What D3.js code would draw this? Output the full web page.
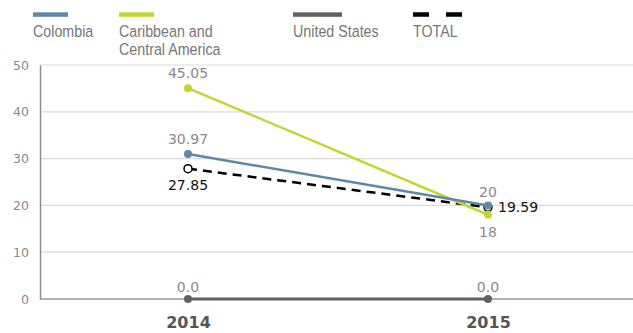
<!DOCTYPE html>
<html>
<head>
<meta charset="utf-8">
<script src="https://cdn.jsdelivr.net/npm/d3@7"></script>
<style>
  html, body { margin: 0; padding: 0; background: #fff; }
  svg { display: block; font-family: "DejaVu Sans", Arial, sans-serif; }
</style>
</head>
<body>
<svg id="chart" width="633" height="333"></svg>
<script>
// Years on the x axis
const years = ["2014", "2015"];

// Series values per year
const colombia = [30.97, 20];
const caribbean = [45.05, 18];
const unitedStates = [0, 0];
const total = [27.85, 19.59];

// Value labels as printed
const colombiaLabels = ["30.97", "20"];
const caribbeanLabels = ["45.05", "18"];
const usLabels = ["0.0", "0.0"];
const totalLabels = ["27.85", "19.59"];

const yTicks = [0, 10, 20, 30, 40, 50];

const svg = d3.select("#chart");
const width = 633, height = 333;
const margin = { top: 65, right: 0, bottom: 34, left: 40 };

const x = d3.scalePoint().domain(years).range([188, 488]);
const y = d3.scaleLinear().domain([0, 50]).range([height - margin.bottom, margin.top]);

const valueFont = "DejaVu Sans, sans-serif";
const legendFont = "Liberation Sans, Arial, sans-serif";

// Gridlines
svg.append("g")
  .selectAll("line")
  .data(yTicks)
  .join("line")
  .attr("x1", margin.left).attr("x2", width)
  .attr("y1", d => y(d)).attr("y2", d => y(d))
  .attr("stroke", d => d === 0 ? "#9a9a9a" : "#dcdcdc")
  .attr("stroke-width", d => d === 0 ? 1.5 : 1.2);

// Y axis
const yAxis = svg.append("g")
  .attr("transform", `translate(${margin.left},0)`)
  .call(d3.axisLeft(y).tickValues(yTicks).tickSize(0).tickPadding(11));
yAxis.select(".domain").attr("stroke", "#8c8c8c").attr("stroke-width", 1.5);
yAxis.selectAll("text")
  .attr("fill", "#8a8a8a")
  .attr("font-size", 12.5)
  .attr("font-family", valueFont);

// X axis labels
const xAxis = svg.append("g")
  .attr("transform", `translate(0,${height - margin.bottom})`)
  .call(d3.axisBottom(x).tickSize(0).tickPadding(18));
xAxis.select(".domain").remove();
xAxis.selectAll("text")
  .attr("fill", "#555")
  .attr("font-size", 16)
  .attr("font-weight", "bold")
  .attr("font-family", valueFont);

const line = d3.line().x((d, i) => x(years[i])).y(d => y(d));

function drawSeries(values, color, opts = {}) {
  svg.append("path")
    .datum(values)
    .attr("d", line)
    .attr("fill", "none")
    .attr("stroke", color)
    .attr("stroke-width", opts.width || 2.5)
    .attr("stroke-dasharray", opts.dash || null);
  svg.append("g")
    .selectAll("circle")
    .data(values)
    .join("circle")
    .attr("cx", (d, i) => x(years[i]))
    .attr("cy", d => y(d))
    .attr("r", 4)
    .attr("fill", opts.open ? "#fff" : color)
    .attr("stroke", opts.open ? color : "none")
    .attr("stroke-width", 1.5);
}

drawSeries(unitedStates, "#616161", { width: 3 });
drawSeries(total, "#000", { dash: "9,6", open: true });
drawSeries(caribbean, "#c3d630");
drawSeries(colombia, "#5e88a8");

// Value labels
function label(value, text, i, dx, dy, color, anchor = "middle") {
  svg.append("text")
    .attr("x", x(years[i]) + dx)
    .attr("y", y(value) + dy)
    .attr("text-anchor", anchor)
    .attr("fill", color)
    .attr("font-size", 14)
    .attr("font-family", valueFont)
    .text(text);
}
label(caribbean[0], caribbeanLabels[0], 0, 0, -10, "#8a8a8a");
label(colombia[0], colombiaLabels[0], 0, 0, -10, "#8a8a8a");
label(total[0], totalLabels[0], 0, 0, 21, "#111");
label(colombia[1], colombiaLabels[1], 1, 0, -8, "#8a8a8a");
label(caribbean[1], caribbeanLabels[1], 1, 0, 22, "#8a8a8a");
label(total[1], totalLabels[1], 1, 10, 5, "#111", "start");
label(unitedStates[0], usLabels[0], 0, 0, -7, "#8a8a8a");
label(unitedStates[1], usLabels[1], 1, 0, -7, "#8a8a8a");

// Legend (text horizontally condensed)
const legendItems = [
  { name: ["Colombia"], color: "#5e88a8", x: 33, w: 35 },
  { name: ["Caribbean and", "Central America"], color: "#c3d630", x: 119, w: 35 },
  { name: ["United States"], color: "#616161", x: 293, w: 49 },
  { name: ["TOTAL"], color: "#000", x: 413, w: 49, dash: true }
];
const legend = svg.append("g");
legendItems.forEach(item => {
  if (item.dash) {
    legend.append("line")
      .attr("x1", item.x).attr("x2", item.x + item.w)
      .attr("y1", 14.5).attr("y2", 14.5)
      .attr("stroke", item.color).attr("stroke-width", 4.5)
      .attr("stroke-dasharray", "16,17");
  } else {
    legend.append("rect")
      .attr("x", item.x).attr("y", 12.3)
      .attr("width", item.w).attr("height", 4.5)
      .attr("fill", item.color);
  }
  item.name.forEach((t, k) => {
    legend.append("text")
      .attr("transform", `translate(${item.x},${37 + k * 18}) scale(0.84,1)`)
      .attr("fill", "#777")
      .attr("font-size", 17)
      .attr("font-family", legendFont)
      .text(t);
  });
});
</script>
</body>
</html>
